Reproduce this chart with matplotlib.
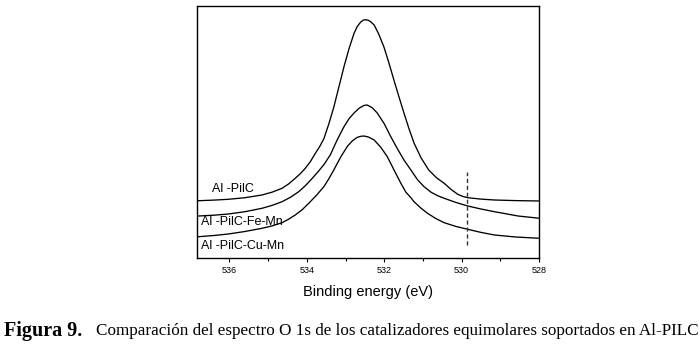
import matplotlib
matplotlib.use("Agg")
import matplotlib.pyplot as plt
from matplotlib.ticker import MultipleLocator

# Binding energy (eV) and intensity (arb. units)
e_pilc = [536.80, 536.40, 536.03, 535.60, 535.16, 534.90, 534.64, 534.47, 534.30,
          534.17, 534.04, 533.91, 533.78, 533.67, 533.56, 533.43, 533.30, 533.17,
          533.04, 532.91, 532.78, 532.70, 532.61, 532.54, 532.48, 532.42, 532.35,
          532.26, 532.14, 532.01, 531.88, 531.75, 531.62, 531.49, 531.36, 531.23,
          531.05, 530.85, 530.65, 530.45, 530.28, 530.10, 529.97, 529.84, 529.50,
          529.15, 528.60, 527.98]
i_pilc = [57.0, 57.6, 58.4, 60.0, 62.7, 65.5, 69.4, 73.8, 79.4,
          84.0, 89.4, 96.0, 104.4, 111.0, 119.0, 134.0, 151.0, 171.0,
          191.0, 209.0, 224.4, 231.0, 235.6, 237.6, 238.0, 237.6, 236.0,
          232.7, 223.5, 211.0, 195.0, 177.7, 161.0, 144.7, 129.0, 114.7,
          100.0, 87.7, 80.0, 74.4, 68.5, 63.4, 61.3, 60.0, 58.6,
          57.7, 57.1, 56.7]

e_femn = [536.80, 536.40, 536.03, 535.60, 535.16, 534.90, 534.64, 534.42, 534.21,
          534.03, 533.86, 533.71, 533.56, 533.39, 533.22, 533.04, 532.91, 532.78,
          532.65, 532.52, 532.44, 532.31, 532.18, 532.00, 531.83, 531.66, 531.49,
          531.31, 531.14, 530.97, 530.79, 530.62, 530.45, 530.15, 529.84, 529.50,
          529.15, 528.54, 527.98]
i_femn = [41.7, 42.5, 43.7, 46.0, 49.4, 52.3, 56.0, 60.5, 66.0,
          72.3, 79.4, 86.0, 93.0, 103.0, 117.5, 131.0, 139.0, 144.7,
          149.5, 152.3, 152.7, 150.0, 144.7, 134.0, 121.0, 109.0, 97.7,
          87.7, 78.0, 71.0, 65.5, 62.0, 59.4, 55.3, 51.7, 48.7,
          46.0, 41.7, 39.4]

e_cumn = [536.80, 536.40, 536.03, 535.60, 535.16, 534.90, 534.64, 534.47, 534.30,
          534.12, 533.95, 533.75, 533.56, 533.43, 533.30, 533.12, 532.95, 532.82,
          532.70, 532.61, 532.52, 532.40, 532.26, 532.09, 531.92, 531.75, 531.57,
          531.44, 531.31, 531.23, 531.05, 530.88, 530.66, 530.45, 530.15, 529.84,
          529.50, 529.15, 528.60, 527.98]
i_cumn = [21.0, 22.2, 23.7, 26.2, 29.4, 31.8, 35.0, 38.5, 42.7,
          48.0, 54.4, 62.5, 71.0, 79.0, 88.0, 101.0, 111.5, 117.0,
          120.3, 121.4, 121.7, 120.6, 117.7, 110.5, 101.0, 88.0, 74.4,
          65.5, 60.0, 56.0, 49.5, 44.4, 39.0, 35.0, 31.3, 28.4,
          25.3, 22.7, 20.7, 19.4]

labels = ["Al -PilC", "Al -PilC-Fe-Mn", "Al -PilC-Cu-Mn"]
label_e = [536.46, 536.73, 536.73]
label_i = [68.4, 35.5, 11.5]

marker_e = 529.87
marker_i = [12.7, 86.0]

xticks = [536, 534, 532, 530, 528]
xlabel = "Binding energy (eV)"
caption_bold = "Figura 9."
caption_rest = "Comparación del espectro O 1s de los catalizadores equimolares soportados en Al-PILC"

fig = plt.figure(figsize=(7.0, 3.49), dpi=100)
ax = fig.add_axes([0.2819, 0.2616, 0.4881, 0.7226])

for e, i in [(e_pilc, i_pilc), (e_femn, i_femn), (e_cumn, i_cumn)]:
    ax.plot(e, i, color="black", lw=0.95, solid_joinstyle="round", antialiased=True)

ax.plot([marker_e, marker_e], marker_i, color="#333333", lw=1.0, linestyle=(0, (3, 2)))

for t, x, y in zip(labels, label_e, label_i):
    ax.text(x, y, t, fontsize=9, family="Liberation Sans", ha="left", va="center")

ax.set_xlim(536.83, 528)
ax.set_ylim(0, 252.2)
ax.set_xticks(xticks)
ax.xaxis.set_minor_locator(MultipleLocator(1))
ax.set_yticks([])
ax.tick_params(axis="x", which="major", direction="out", length=3.2, width=0.8,
               labelsize=6.5, pad=3)
ax.tick_params(axis="x", which="minor", direction="out", length=1.8, width=0.8)
for lab in ax.get_xticklabels():
    lab.set_family("Liberation Sans")
for s in ax.spines.values():
    s.set_linewidth(1.0)

ax.set_xlabel(xlabel, fontsize=10.5, family="Liberation Sans", labelpad=7)

cap_y = 1 - 331.0 / 349
fig.text(4 / 700, cap_y, caption_bold, fontsize=14.5, fontweight="bold",
         family="Liberation Serif", ha="left", va="center")
fig.text(96 / 700, cap_y, caption_rest, fontsize=12.3,
         family="Liberation Serif", ha="left", va="center")

fig.savefig("out.png", dpi=100)
